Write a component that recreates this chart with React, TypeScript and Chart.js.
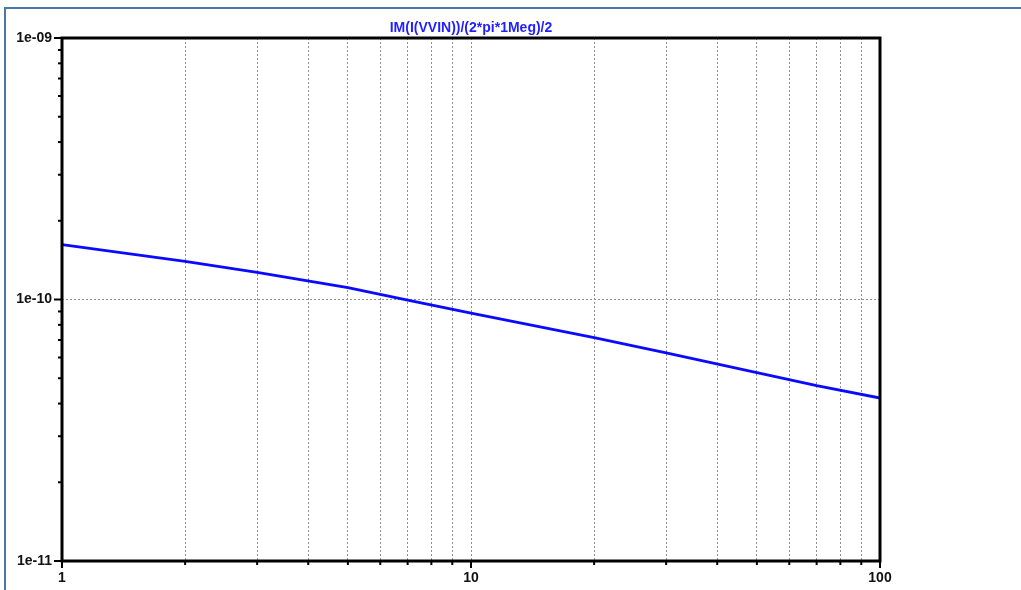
import React, { useEffect, useRef } from "react";
import { Chart, registerables } from "chart.js";

Chart.register(...registerables);

const titleText = "IM(I(VVIN))/(2*pi*1Meg)/2";
const freq = [1, 2, 3, 5, 7, 10, 20, 30, 50, 70, 100];
const values = [1.62e-10, 1.4e-10, 1.27e-10, 1.11e-10, 9.95e-11, 8.87e-11, 7.15e-11, 6.25e-11, 5.25e-11, 4.68e-11, 4.2e-11];
const xTicks = [1, 2, 3, 4, 5, 6, 7, 8, 9, 10, 20, 30, 40, 50, 60, 70, 80, 90, 100];
const xMajor = [1, 10, 100];
const yTicks = [1e-11, 2e-11, 3e-11, 4e-11, 5e-11, 6e-11, 7e-11, 8e-11, 9e-11, 1e-10, 2e-10, 3e-10, 4e-10, 5e-10, 6e-10, 7e-10, 8e-10, 9e-10, 1e-9];
const yMajor = [1e-11, 1e-10, 1e-9];
const yMajorLabels = ["1e-11", "1e-10", "1e-09"];

const near = (a: number, b: number) => Math.abs(a - b) / b < 1e-6;

const frameTicks = {
  id: "frameTicks",
  afterDraw(chart: any) {
    const { ctx, chartArea: a, scales } = chart;
    const x = scales.x;
    const y = scales.y;
    ctx.save();
    ctx.strokeStyle = "#000";
    ctx.lineWidth = 2;
    x.ticks.forEach((t: any) => {
      const px = x.getPixelForValue(t.value);
      const major = xMajor.some((m) => near(t.value, m));
      ctx.beginPath();
      ctx.moveTo(px, a.bottom);
      ctx.lineTo(px, a.bottom + (major ? 7 : 4));
      ctx.stroke();
    });
    y.ticks.forEach((t: any) => {
      const py = y.getPixelForValue(t.value);
      const major = yMajor.some((m) => near(t.value, m));
      ctx.beginPath();
      ctx.moveTo(a.left, py);
      ctx.lineTo(a.left - (major ? 8 : 4), py);
      ctx.stroke();
    });
    ctx.lineWidth = 3;
    ctx.strokeRect(a.left, a.top, a.right - a.left, a.bottom - a.top);
    ctx.restore();
  },
};

export default function App() {
  const ref = useRef<HTMLCanvasElement | null>(null);
  useEffect(() => {
    if (!ref.current) return;
    const chart = new Chart(ref.current, {
      type: "line",
      data: {
        datasets: [
          {
            data: freq.map((f, i) => ({ x: f, y: values[i] })),
            borderColor: "#0a0aff",
            borderWidth: 2.8,
            pointRadius: 0,
            tension: 0,
            fill: false,
          },
        ],
      },
      options: {
        animation: false,
        responsive: false,
        devicePixelRatio: 1,
        layout: { padding: { left: 0, right: 141, top: 0, bottom: 0 } },
        plugins: {
          legend: { display: false },
          tooltip: { enabled: false },
          title: {
            display: true,
            text: titleText,
            fullSize: false,
            color: "#1f1fff",
            font: { family: "Liberation Sans", size: 14, weight: "bold", lineHeight: 1.2 },
            padding: { top: 19.6, bottom: 1.6 },
          },
        },
        scales: {
          x: {
            type: "logarithmic",
            min: 1,
            max: 100,
            afterBuildTicks: (s: any) => {
              s.ticks = xTicks.map((v) => ({ value: v }));
            },
            afterFit: (s: any) => {
              s.height = 29;
            },
            ticks: {
              autoSkip: false,
              maxRotation: 0,
              padding: 9,
              color: "#111",
              font: { family: "Liberation Sans", size: 14, weight: "bold" },
              callback: (v: any) => {
                const m = xMajor.find((q) => near(Number(v), q));
                return m !== undefined ? String(m) : "";
              },
            },
            grid: {
              drawTicks: false,
              lineWidth: 1,
              color: (c: any) => (c.tick && (near(c.tick.value, 1) || near(c.tick.value, 100)) ? "rgba(0,0,0,0)" : "#8f8f8f"),
            },
            border: { display: false, dash: [2, 2] },
          },
          y: {
            type: "logarithmic",
            min: 1e-11,
            max: 1e-9,
            afterBuildTicks: (s: any) => {
              s.ticks = yTicks.map((v) => ({ value: v }));
            },
            afterFit: (s: any) => {
              s.width = 62;
            },
            ticks: {
              autoSkip: false,
              padding: 10,
              color: "#111",
              font: { family: "Liberation Sans", size: 14, weight: "bold" },
              callback: (v: any) => {
                const i = yMajor.findIndex((q) => near(Number(v), q));
                return i >= 0 ? yMajorLabels[i] : "";
              },
            },
            grid: {
              drawTicks: false,
              lineWidth: 1,
              color: (c: any) => (c.tick && near(c.tick.value, 1e-10) ? "#8f8f8f" : "rgba(0,0,0,0)"),
            },
            border: { display: false, dash: [2, 2] },
          },
        },
      },
      plugins: [frameTicks],
    } as any);
    return () => chart.destroy();
  }, []);
  return (
    <div style={{ position: "fixed", left: 0, top: 0, width: 1021, height: 590, background: "#fff" }}>
      <div
        style={{
          position: "absolute",
          left: 4,
          top: 7,
          width: 1017,
          height: 583,
          borderTop: "2px solid #4b77a7",
          borderLeft: "2px solid #4b77a7",
          boxSizing: "border-box",
        }}
      />
      <canvas ref={ref} width={1021} height={590} style={{ position: "absolute", left: 0, top: 0, width: 1021, height: 590 }} />
    </div>
  );
}
